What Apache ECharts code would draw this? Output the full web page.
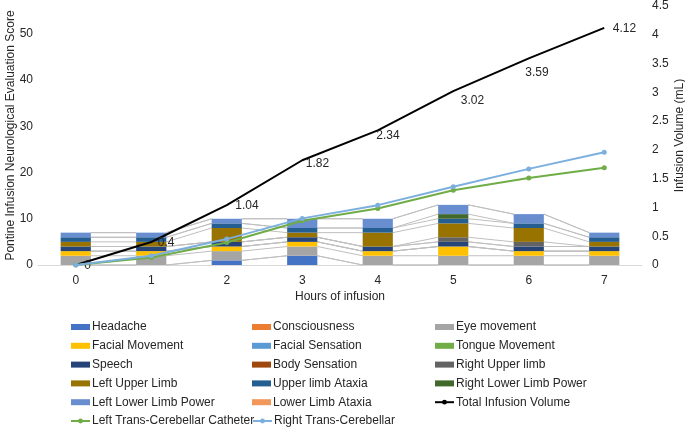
<!DOCTYPE html>
<html>
<head>
<meta charset="utf-8">
<script src="https://cdn.jsdelivr.net/npm/echarts@6/dist/echarts.min.js"></script>
<style>html,body{margin:0;padding:0;background:#fff}#c{width:685px;height:428px}</style>
</head>
<body>
<div id="c"></div>
<script>
const categories = ['0','1','2','3','4','5','6','7'];

// Stacked score components (left axis)
const headache            = [0,0,1,2,0,0,0,0];
const consciousness       = [0,0,0,0,0,0,0,0];
const eyeMovement         = [2,2,2,2,2,2,2,2];
const facialMovement      = [1,1,1,1,1,2,1,1];
const facialSensation     = [0,0,0,0,0,0,0,0];
const tongueMovement      = [0,0,0,0,0,0,0,0];
const speech              = [1,1,1,1,1,1,1,1];
const bodySensation       = [0,0,0,0,0,0,0,0];
const rightUpperLimb      = [0,0,0,0,0,1,1,0];
const leftUpperLimb       = [1,1,3,1,3,3,3,1];
const upperLimbAtaxia     = [1,1,1,1,1,1,1,1];
const rightLowerLimbPower = [0,0,0,0,0,1,0,0];
const leftLowerLimbPower  = [1,1,1,2,2,2,2,1];
const lowerLimbAtaxia     = [0,0,0,0,0,0,0,0];

// Infusion volumes (right axis, mL)
const totalInfusion = [0,0.4,1.04,1.82,2.34,3.02,3.59,4.12];
const leftCatheter  = [0,0.13,0.39,0.77,0.98,1.30,1.51,1.69];
const rightCatheter = [0,0.16,0.45,0.81,1.04,1.36,1.67,1.96];

const leftTicks = [0,10,20,30,40,50];
const rightTicks = [0,0.5,1,1.5,2,2.5,3,3.5,4,4.5];

const barSeries = [
  ['Headache', headache, '#4472C4'],
  ['Consciousness', consciousness, '#ED7D31'],
  ['Eye movement', eyeMovement, '#A5A5A5'],
  ['Facial Movement', facialMovement, '#FFC000'],
  ['Facial Sensation', facialSensation, '#5B9BD5'],
  ['Tongue Movement', tongueMovement, '#70AD47'],
  ['Speech', speech, '#264478'],
  ['Body Sensation', bodySensation, '#9E480E'],
  ['Right Upper limb', rightUpperLimb, '#636363'],
  ['Left Upper Limb', leftUpperLimb, '#997300'],
  ['Upper limb Ataxia', upperLimbAtaxia, '#255E91'],
  ['Right Lower Limb Power', rightLowerLimbPower, '#43682B'],
  ['Left Lower Limb Power', leftLowerLimbPower, '#698ED0'],
  ['Lower Limb Ataxia', lowerLimbAtaxia, '#F1975A']
];

// cumulative tops for series lines
const cum = [];
barSeries.forEach((s, k) => {
  cum.push(s[1].map((v, i) => v + (k > 0 ? cum[k-1][i] : 0)));
});

const chart = echarts.init(document.getElementById('c'), null, {renderer: 'canvas'});

const series = [];
series.push({
  type: 'custom',
  name: 'seriesLines',
  xAxisIndex: 0, yAxisIndex: 0,
  z: 1,
  silent: true,
  data: categories.slice(0, -1).map((c, i) => [i]),
  renderItem: function (params, api) {
    const i = api.value(0);
    const band = api.size([1, 0])[0];
    const half = band * 0.4 / 2;
    const children = cum.map(level => {
      const p1 = api.coord([i, level[i]]);
      const p2 = api.coord([i + 1, level[i + 1]]);
      return {
        type: 'line',
        shape: {x1: p1[0] + half, y1: p1[1], x2: p2[0] - half, y2: p2[1]},
        style: {stroke: '#BFBFBF', lineWidth: 1}
      };
    });
    return {type: 'group', children: children};
  }
});

barSeries.forEach(s => {
  series.push({
    type: 'bar', name: s[0], data: s[1], stack: 'score',
    barWidth: '40%', z: 2,
    itemStyle: {color: s[2]},
    emphasis: {disabled: true}
  });
});

// label nudges (dx, dy) for the total-volume data labels
const labelNudges = [[2,1],[0,1],[2,1],[-3,3],[-8,5],[1,10],[-10,14],[2,1]];

series.push({
  type: 'line', name: 'Total Infusion Volume', yAxisIndex: 1, z: 5,
  data: totalInfusion.map(v => ({value: v, label: {show: true}})),
  symbol: 'circle', symbolSize: 1, showSymbol: true,
  lineStyle: {color: '#000', width: 2}, itemStyle: {color: 'rgba(0,0,0,0)'},
  labelLayout: function (p) {
    const n = labelNudges[p.dataIndex] || [0, 0];
    return {dx: n[0], dy: n[1], hideOverlap: false};
  },
  label: {show: true, position: 'right', distance: 6, color: '#262626', fontSize: 12,
          fontFamily: 'Liberation Sans', opacity: 1}
});
series.push({
  type: 'line', name: 'Left Trans-Cerebellar Catheter', yAxisIndex: 1, z: 6,
  data: leftCatheter, symbol: 'circle', symbolSize: 5,
  lineStyle: {color: '#70AD47', width: 2}, itemStyle: {color: '#70AD47'}
});
series.push({
  type: 'line', name: 'Right Trans-Cerebellar', yAxisIndex: 1, z: 7,
  data: rightCatheter, symbol: 'circle', symbolSize: 5,
  lineStyle: {color: '#7CAFDD', width: 2}, itemStyle: {color: '#7CAFDD'}
});

const legendText = {fontSize: 12, color: '#262626', fontFamily: 'Liberation Sans', padding: [0,0,0,-3]};
const lineNames = ['Total Infusion Volume','Left Trans-Cerebellar Catheter','Right Trans-Cerebellar'];
const lineColors = {'Total Infusion Volume': '#000', 'Left Trans-Cerebellar Catheter': '#70AD47', 'Right Trans-Cerebellar': '#7CAFDD'};
function legendCol(names, left, top) {
  return {
    orient: 'vertical', left: left, top: top, itemGap: 6.8, padding: 0, height: 120,
    itemWidth: 19, itemHeight: 6, textStyle: legendText,
    data: names.map(n => lineNames.includes(n)
      ? {name: n, itemStyle: {color: lineColors[n], opacity: 1}}
      : {name: n, icon: 'rect'}),
    selectedMode: false
  };
}

const option = {
  animation: false,
  textStyle: {fontFamily: 'Liberation Sans'},
  grid: {left: 38, right: 43, top: 6, bottom: 163, containLabel: false, outerBoundsMode: 'none'},
  legend: [
    legendCol(['Headache','Facial Movement','Speech','Left Upper Limb','Left Lower Limb Power','Left Trans-Cerebellar Catheter'], 70, 321),
    legendCol(['Consciousness','Facial Sensation','Body Sensation','Upper limb Ataxia','Lower Limb Ataxia'], 252, 321),
    legendCol(['Eye movement','Tongue Movement','Right Upper limb','Right Lower Limb Power','Total Infusion Volume'], 434, 321),
    legendCol(['Right Trans-Cerebellar'], 252, 415)
  ],
  xAxis: {
    type: 'category', data: categories,
    name: 'Hours of infusion', nameLocation: 'middle', nameGap: 26, nameMoveOverlap: false,
    nameTextStyle: {fontSize: 12, color: '#262626'},
    axisLine: {lineStyle: {color: '#D9D9D9'}},
    axisTick: {show: false},
    axisLabel: {fontSize: 12, color: '#262626', margin: 10}
  },
  yAxis: [
    {
      type: 'value', min: 0, max: 56, interval: 10,
      name: 'Pontine Infusion Neurological Evaluation Score',
      nameLocation: 'middle', nameGap: 21, nameRotate: 90, nameMoveOverlap: false,
      nameTextStyle: {fontSize: 12, color: '#262626'},
      axisLine: {show: false}, axisTick: {show: false},
      splitLine: {show: false},
      axisLabel: {fontSize: 12, color: '#262626', showMaxLabel: false, margin: 5,
                  formatter: v => leftTicks.includes(v) ? String(v) : ''}
    },
    {
      type: 'value', min: 0, max: 4.5, interval: 0.5,
      name: 'Infusion Volume (mL)', nameLocation: 'middle', nameGap: 32, nameRotate: 90,
      nameMoveOverlap: false,
      nameTextStyle: {fontSize: 12, color: '#262626'},
      axisLine: {show: false}, axisTick: {show: false},
      splitLine: {show: false},
      axisLabel: {fontSize: 12, color: '#262626', margin: 10,
                  formatter: v => rightTicks.includes(v) ? String(v) : ''}
    }
  ],
  series: series
};
chart.setOption(option);
</script>
</body>
</html>
